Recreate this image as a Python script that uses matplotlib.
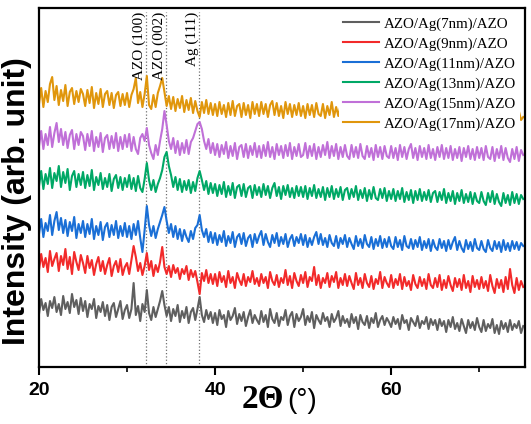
import numpy as np
import matplotlib
matplotlib.use("Agg")
import matplotlib.pyplot as plt

# -------------------------------
# Data (stacked intensity in arb. units)
# -------------------------------
two_theta = np.linspace(20, 75, 221)  # 0.25 deg step

ag_7nm = [
    53, 68, 57, 64, 51, 66, 59, 70, 55, 63, 52, 71, 58, 65, 54, 73, 60, 67, 53, 69,
    56, 66, 50, 63, 58, 68, 49, 61, 55, 65, 51, 62, 47, 60, 64, 50, 58, 66, 48, 57,
    62, 49, 58, 84, 52, 61, 46, 63, 55, 77, 54, 47, 60, 50, 58, 66, 76, 62, 51, 60,
    46, 58, 51, 62, 45, 56, 49, 60, 44, 55, 59, 47, 58, 70, 52, 45, 57, 48, 55, 44,
    54, 42, 57, 48, 52, 40, 56, 47, 51, 59, 43, 53, 46, 55, 41, 50, 57, 44, 52, 47,
    43, 56, 45, 52, 40, 58, 48, 44, 54, 41, 50, 47, 57, 42, 51, 55, 40, 53, 46, 50,
    58, 42, 51, 45, 55, 39, 52, 47, 43, 54, 46, 50, 40, 53, 45, 49, 56, 41, 51, 44,
    48, 40, 53, 44, 50, 38, 52, 45, 42, 51, 39, 49, 44, 54, 40, 47, 51, 42, 49, 45,
    40, 50, 43, 48, 38, 52, 44, 47, 37, 49, 45, 41, 51, 39, 46, 43, 50, 38, 48, 42,
    47, 37, 48, 41, 46, 35, 47, 40, 50, 38, 44, 36, 48, 41, 34, 47, 39, 45, 37, 49,
    40, 35, 47, 36, 43, 39, 48, 34, 42, 33, 46, 38, 44, 35, 47, 37, 43, 39, 46, 34,
    41,
]

ag_9nm = [
    97, 113, 100, 109, 95, 116, 101, 108, 114, 96, 111, 102, 118, 98, 110, 93, 115, 105, 97, 112,
    104, 94, 111, 99, 107, 92, 103, 110, 96, 106, 93, 102, 109, 91, 101, 106, 95, 108, 92, 100,
    104, 93, 107, 121, 110, 96, 104, 92, 101, 114, 97, 106, 91, 102, 95, 105, 120, 100, 93, 101,
    90, 102, 94, 99, 88, 98, 93, 101, 87, 97, 90, 96, 85, 73, 94, 86, 97, 84, 93, 83,
    93, 81, 95, 85, 91, 80, 96, 84, 90, 79, 94, 87, 82, 93, 81, 90, 85, 96, 83, 89,
    81, 93, 84, 90, 79, 95, 86, 82, 92, 80, 89, 84, 97, 82, 91, 79, 94, 86, 81, 92,
    84, 95, 80, 90, 86, 100, 82, 92, 79, 89, 84, 94, 80, 91, 85, 95, 79, 89, 82, 93,
    81, 91, 84, 78, 94, 82, 89, 79, 93, 84, 80, 91, 78, 88, 83, 95, 79, 90, 84, 80,
    92, 79, 88, 82, 93, 78, 90, 81, 86, 77, 92, 83, 79, 90, 81, 88, 78, 93, 82, 79,
    89, 80, 92, 77, 87, 79, 91, 82, 76, 89, 80, 88, 77, 92, 79, 86, 75, 91, 80, 87,
    78, 90, 79, 86, 76, 92, 81, 74, 88, 79, 87, 75, 90, 78, 98, 82, 74, 89, 77, 86,
    80,
]

ag_11nm = [
    133, 148, 130, 144, 136, 152, 132, 146, 155, 137, 149, 134, 147, 131, 145, 136, 150, 129, 143, 134,
    146, 130, 143, 133, 148, 128, 141, 132, 145, 127, 140, 144, 130, 142, 132, 146, 129, 141, 131, 144,
    130, 141, 128, 143, 132, 146, 129, 115, 137, 161, 142, 131, 141, 129, 138, 145, 152, 160, 146, 134,
    143, 130, 141, 128, 138, 126, 137, 130, 125, 136, 128, 139, 142, 152, 137, 130, 138, 125, 135, 124,
    134, 122, 132, 125, 136, 121, 131, 124, 135, 120, 130, 133, 123, 134, 121, 129, 132, 120, 133, 124,
    131, 136, 122, 133, 125, 120, 132, 124, 134, 121, 130, 123, 133, 120, 128, 132, 121, 130, 124, 133,
    122, 132, 120, 129, 122, 130, 135, 123, 133, 122, 129, 120, 132, 124, 121, 131, 119, 129, 123, 132,
    120, 129, 123, 118, 131, 121, 128, 119, 132, 123, 120, 130, 118, 128, 121, 131, 119, 128, 120, 130,
    121, 118, 130, 120, 127, 117, 131, 121, 119, 128, 118, 127, 120, 130, 117, 126, 119, 128, 116, 127,
    120, 117, 128, 119, 126, 116, 127, 118, 125, 130, 117, 126, 119, 115, 127, 118, 125, 116, 128, 119,
    117, 126, 118, 115, 127, 119, 116, 126, 118, 125, 115, 127, 117, 124, 116, 126, 118, 125, 117, 124,
    121,
]

ag_13nm = [
    181, 196, 178, 193, 183, 199, 179, 194, 186, 201, 180, 195, 184, 198, 177, 191, 196, 180, 193, 182,
    195, 179, 192, 181, 197, 177, 190, 182, 194, 178, 189, 180, 193, 176, 188, 192, 179, 190, 177, 189,
    180, 192, 178, 189, 176, 191, 179, 175, 188, 204, 187, 177, 187, 175, 183, 189, 197, 210, 215, 201,
    192, 180, 190, 177, 188, 175, 186, 177, 187, 174, 185, 176, 189, 196, 187, 177, 186, 173, 184, 174,
    183, 171, 182, 173, 185, 170, 181, 172, 184, 169, 180, 182, 171, 183, 170, 179, 181, 169, 182, 172,
    180, 170, 183, 172, 181, 169, 179, 184, 171, 180, 168, 181, 172, 182, 170, 179, 169, 181, 171, 180,
    170, 181, 168, 179, 171, 182, 169, 178, 170, 180, 167, 179, 170, 181, 168, 178, 170, 180, 167, 177,
    179, 168, 178, 170, 181, 167, 177, 169, 179, 166, 177, 168, 180, 169, 167, 178, 169, 179, 166, 176,
    168, 178, 166, 176, 168, 179, 165, 175, 167, 177, 164, 176, 167, 178, 166, 175, 167, 177, 165, 174,
    176, 165, 175, 167, 178, 164, 174, 166, 176, 163, 174, 166, 177, 164, 173, 165, 175, 163, 174, 166,
    164, 175, 166, 162, 174, 165, 176, 163, 173, 165, 161, 174, 164, 172, 162, 175, 164, 173, 163, 172,
    168,
]

ag_15nm = [
    221, 236, 218, 233, 222, 240, 220, 234, 244, 225, 238, 222, 235, 219, 232, 237, 218, 233, 222, 235,
    231, 217, 233, 221, 236, 216, 230, 220, 234, 215, 229, 232, 218, 231, 219, 234, 216, 230, 218, 232,
    220, 233, 216, 230, 218, 213, 229, 233, 226, 239, 222, 214, 208, 222, 212, 226, 238, 256, 242, 226,
    218, 229, 214, 226, 212, 224, 214, 227, 213, 225, 229, 236, 243, 245, 238, 226, 218, 228, 214, 224,
    212, 223, 210, 222, 213, 225, 209, 221, 211, 224, 208, 220, 222, 210, 223, 209, 221, 212, 224, 210,
    221, 209, 222, 211, 225, 210, 220, 208, 223, 212, 221, 209, 222, 211, 224, 208, 220, 211, 223, 210,
    212, 224, 209, 221, 211, 223, 208, 220, 210, 222, 212, 225, 209, 221, 211, 223, 208, 220, 210, 222,
    211, 208, 222, 210, 220, 209, 223, 211, 208, 221, 210, 219, 207, 222, 210, 220, 208, 221, 211, 209,
    221, 209, 219, 207, 222, 210, 220, 208, 218, 223, 209, 219, 207, 221, 210, 219, 208, 222, 209, 218,
    207, 220, 210, 222, 208, 219, 209, 221, 207, 218, 209, 220, 206, 219, 210, 221, 208, 218, 207, 220,
    209, 219, 207, 221, 210, 208, 220, 206, 218, 209, 221, 207, 219, 209, 205, 218, 208, 220, 206, 217,
    212,
]

ag_17nm = [
    263, 279, 260, 276, 265, 283, 290, 267, 281, 262, 277, 266, 282, 261, 275, 279, 263, 276, 265, 278,
    273, 261, 277, 264, 280, 259, 274, 263, 278, 260, 273, 276, 262, 274, 259, 272, 275, 261, 273, 262,
    274, 260, 272, 278, 289, 264, 275, 260, 273, 291, 262, 258, 272, 260, 274, 281, 289, 275, 261, 271,
    258, 270, 256, 268, 259, 271, 255, 267, 257, 269, 254, 266, 256, 250, 265, 254, 267, 253, 264, 252,
    263, 251, 265, 253, 262, 250, 264, 252, 266, 251, 261, 263, 250, 264, 252, 262, 249, 265, 253, 263,
    251, 265, 253, 263, 250, 262, 266, 252, 264, 251, 261, 249, 265, 253, 263, 250, 262, 252, 264, 251,
    261, 249, 263, 252, 262, 250, 264, 253, 251, 263, 249, 261, 252, 265, 250, 260, 251, 262, 249, 260,
    251, 262, 249, 260, 251, 263, 248, 259, 250, 261, 247, 260, 250, 262, 248, 259, 250, 261, 247, 258,
    260, 248, 259, 250, 261, 247, 258, 249, 260, 246, 259, 249, 258, 247, 260, 248, 258, 246, 259, 249,
    258, 246, 257, 248, 259, 245, 257, 247, 258, 248, 246, 258, 247, 257, 245, 256, 247, 258, 246, 256,
    247, 257, 245, 256, 246, 258, 244, 255, 246, 257, 245, 256, 247, 244, 257, 246, 255, 245, 256, 247,
    250,
]

series = [ag_7nm, ag_9nm, ag_11nm, ag_13nm, ag_15nm, ag_17nm]
labels = ["AZO/Ag(7nm)/AZO", "AZO/Ag(9nm)/AZO", "AZO/Ag(11nm)/AZO",
          "AZO/Ag(13nm)/AZO", "AZO/Ag(15nm)/AZO", "AZO/Ag(17nm)/AZO"]
colors = ["#5f5f5f", "#f22a2a", "#1a6fd6", "#00a866", "#c070d8", "#e0960c"]

peak_pos = [32.2, 34.4, 38.2]
peak_names = ["AZO (100)", "AZO (002)", "Ag (111)"]

# -------------------------------
# Plot
# -------------------------------
fig = plt.figure(figsize=(5.31, 4.24), dpi=100)
ax = fig.add_axes([0.0734, 0.1344, 0.9153, 0.8467])

for pos in peak_pos:
    ax.axvline(pos, ymax=0.99, color="#707070", ls=":", lw=0.9, zorder=1)

for y, lab, c in zip(series, labels, colors):
    ax.plot(two_theta, y, color=c, lw=1.5, label=lab, zorder=2)

for pos, name in zip(peak_pos, peak_names):
    ax.text(pos, 355, name, rotation=90, ha="right", va="top",
            family="Liberation Serif", fontsize=11, zorder=3)

ax.set_xlim(20, 75.2)
ax.set_ylim(0, 359)
ax.set_yticks([])
ax.set_xticks([20, 40, 60])
ax.set_xticks([30, 50, 70], minor=True)
ax.tick_params(axis="x", which="major", direction="out", length=6, width=1.5, pad=5)
ax.tick_params(axis="x", which="minor", direction="out", length=3.5, width=1.2)
for t in ax.get_xticklabels():
    t.set_family("Liberation Sans")
    t.set_fontweight("bold")
    t.set_fontsize(14)
for sp in ax.spines.values():
    sp.set_linewidth(1.6)

ax.set_ylabel("Intensity (arb. unit)", family="Liberation Sans",
              fontweight="bold", fontsize=23)
ax.yaxis.set_label_coords(-0.014, 0.462)

ax.text(0.504, -0.114, "2Θ", transform=ax.transAxes, ha="right", va="baseline",
        family="Liberation Serif", fontweight="bold", fontsize=24)
ax.text(0.510, -0.114, "(°)", transform=ax.transAxes, ha="left", va="baseline",
        family="Liberation Sans", fontsize=20)

leg = ax.legend(loc="upper right", bbox_to_anchor=(1.0, 1.0), frameon=True,
                prop={"family": "Liberation Serif", "size": 10.8},
                handlelength=2.4, handletextpad=0.33, labelspacing=0.42,
                borderpad=0.25, borderaxespad=0.35, fancybox=False)
leg.get_frame().set_facecolor("white")
leg.get_frame().set_edgecolor("none")
leg.get_frame().set_alpha(1.0)

fig.savefig("out.png", dpi=100)
